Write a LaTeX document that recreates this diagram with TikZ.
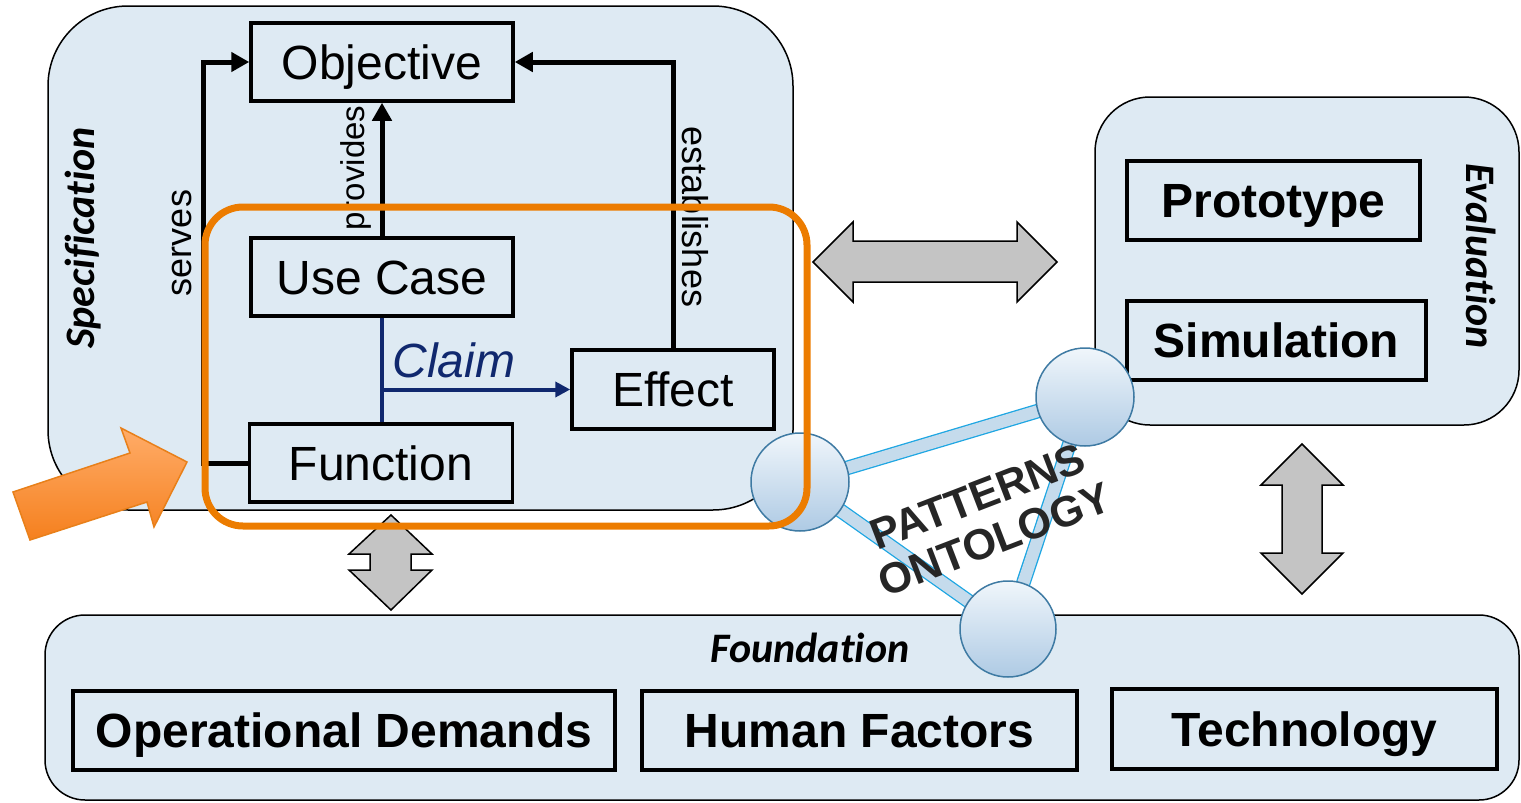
\documentclass[tikz,border=0pt]{standalone}
\usepackage{fontspec}
\setmainfont{Liberation Sans}
\newfontfamily\calibri[Ligatures={NoCommon}]{Carlito}
\usetikzlibrary{arrows.meta}

\definecolor{panelfill}{RGB}{222,234,243}
\definecolor{claimblue}{RGB}{16,40,110}
\definecolor{frameorange}{RGB}{236,124,0}
\definecolor{arrowgray}{RGB}{196,196,196}
\definecolor{sphereedge}{RGB}{62,122,163}
\definecolor{spheretop}{RGB}{240,246,251}
\definecolor{spherebottom}{RGB}{174,202,228}
\definecolor{barline}{RGB}{30,166,226}
\definecolor{barfill}{RGB}{197,219,236}
\definecolor{orangetop}{RGB}{255,172,104}
\definecolor{orangebottom}{RGB}{245,128,30}
\definecolor{orangeedge}{RGB}{232,128,26}
\definecolor{patterntext}{RGB}{38,38,38}

\pgfdeclarelayer{back}
\pgfdeclarelayer{bars}
\pgfsetlayers{back,bars,main}

\tikzset{
  panel/.style={draw=black, line width=1.5pt, fill=panelfill},
  box/.style={draw=black, line width=3.5pt, inner sep=0pt,
    font=\fontsize{48}{52}\selectfont, text height=34pt, text depth=0pt},
  boldbox/.style={box, font=\fontsize{48}{52}\selectfont\bfseries},
  conn/.style={line width=5pt, -{Triangle[length=18pt,width=19pt]}},
  claimline/.style={draw=claimblue, line width=4pt},
  vlabel/.style={font=\fontsize{36}{40}\selectfont, inner sep=0pt},
  panellabel/.style={font=\calibri\fontsize{42}{46}\selectfont\bfseries\itshape,
    inner sep=0pt},
  bigarrow/.style={draw=black, line width=1.5pt, fill=arrowgray, line join=miter},
  sphere/.style={circle, draw=sphereedge, line width=1.5pt,
    top color=spheretop, bottom color=spherebottom,
    minimum size=98pt, inner sep=0pt},
  bar/.style={draw=barline, line width=1.3pt, double=barfill,
    double distance=12pt},
  orangeframe/.style={draw=frameorange, line width=7pt, rounded corners=38pt},
  pointer/.style={draw=orangeedge, line width=1.5pt,
    top color=orangetop, bottom color=orangebottom, line join=miter},
}

\begin{document}
\begin{tikzpicture}[x=1pt, y=-1pt]
\useasboundingbox (0,0) rectangle (1521,803);

% panels
\begin{pgfonlayer}{back}
  \draw[panel, rounded corners=80pt] (48,6) rectangle (793,510);
  \draw[panel, rounded corners=55pt] (1095,97) rectangle (1519,425);
  \draw[panel, rounded corners=40pt] (45,615) rectangle (1519,800);
\end{pgfonlayer}

\node[panellabel, rotate=90]  (speclbl)  at (83,238)  {Specification};
\node[panellabel, rotate=-90] (evallbl)  at (1481,256) {Evaluation};
\node[panellabel]             (foundlbl) at (810,648) {Foundation};

% specification boxes
\node[box, minimum width=262pt, minimum height=78pt] (obj) at (382,62)  {Objective};
\node[box, minimum width=262pt, minimum height=78pt] (uc)  at (382,277) {Use Case};
\node[box, minimum width=263pt, minimum height=78pt] (fn)  at (381,463) {Function};
\node[box, minimum width=202pt, minimum height=79pt] (eff) at (673,389.5) {Effect};

% evaluation boxes
\node[boldbox, minimum width=293pt, minimum height=79pt] (proto) at (1273.5,200.5) {Prototype};
\node[boldbox, minimum width=299pt, minimum height=79pt] (simu)  at (1276.5,340.5) {Simulation};

% foundation boxes
\node[boldbox, minimum width=542pt, minimum height=79pt] (opdem) at (344,730.5)  {Operational Demands};
\node[boldbox, minimum width=435pt, minimum height=79pt] (human) at (859.5,730.5) {Human Factors};
\node[boldbox, minimum width=385pt, minimum height=80pt] (tech)  at (1304.5,729)  {Technology};

% relations
\draw[conn] (fn.west) -- ++(-44,0) |- (obj.west);
\draw[conn] (uc.north) -- (obj.south);
\draw[conn] (eff.north) |- (obj.east);

\node[vlabel, rotate=90]  (serveslbl)  at (182,243) {serves};
\node[vlabel, rotate=90, font=\fontsize{33}{38}\selectfont] (provlbl) at (356,168) {provides};
\node[vlabel, rotate=-90] (establbl)   at (695,217) {establishes};

% claim
\coordinate (cj) at (uc.south |- eff.west);
\draw[claimline] (uc.south) -- (uc.south |- fn.north);
\draw[claimline, -{Triangle[length=15pt,width=15pt]}] (cj) -- (eff.west);
\node[font=\fontsize{48}{52}\selectfont\itshape, text=claimblue, inner sep=0pt]
  (claimlbl) at (454,360) {Claim};

% grey double arrows
\draw[bigarrow] (813,262) -- (853,222) -- (853,241) -- (1017,241) -- (1017,222)
  -- (1057,262) -- (1017,302) -- (1017,282) -- (853,282) -- (853,302) -- cycle;
\draw[bigarrow] (1302,444) -- (1343,485) -- (1322,485) -- (1322,553) -- (1343,553)
  -- (1302,594) -- (1261,553) -- (1282,553) -- (1282,485) -- (1261,485) -- cycle;
\draw[bigarrow] (391,515) -- (432,554) -- (411,554) -- (411,570) -- (432,570)
  -- (391,610) -- (349,570) -- (370,570) -- (370,554) -- (349,554) -- cycle;

% patterns ontology
\node[sphere] (sA) at (800,482) {};
\node[sphere] (sB) at (1085,397) {};
\node[sphere, minimum size=96pt] (sC) at (1008,629) {};
\begin{pgfonlayer}{bars}
  \draw[bar] (sA.center) -- (sB.center);
  \draw[bar] (sA.center) -- (sC.center);
  \draw[bar] (sB.center) -- (sC.center);
\end{pgfonlayer}
\node[rotate=21, align=center, text=patterntext, inner sep=0pt,
  font=\fontsize{43}{46}\selectfont\bfseries] (patlbl) at (986,518) {PATTERNS\\ONTOLOGY};

% highlighted claim frame and pointer
\draw[orangeframe] (205,207) rectangle (807,526);
\draw[pointer] (30,540) -- (13,492) -- (130,453) -- (121,428) -- (187,462)
  -- (154,527) -- (147,502) -- cycle;
\end{tikzpicture}
\end{document}
